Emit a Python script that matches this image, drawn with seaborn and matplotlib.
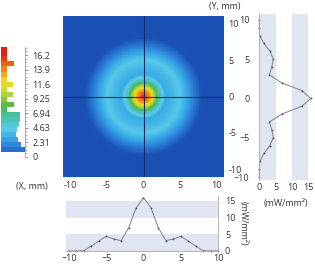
import numpy as np
import pandas as pd
import seaborn as sns
import matplotlib
matplotlib.use("Agg")
import matplotlib.pyplot as plt
from matplotlib.colors import LinearSegmentedColormap, Normalize

# profile along X (bottom) and along Y (right), mW/mm2
x_pos = [-10, -9, -8, -7, -6, -5, -4, -3, -2, -1, 0, 1, 2, 3, 4, 5, 6, 7, 8, 9, 10]
x_vals = [0, 0, 0.1, 1.5, 3.0, 4.4, 3.6, 3.1, 6.9, 12.9, 16.0, 13.0, 6.9, 3.1, 3.6, 4.4, 3.0, 1.5, 0.1, 0, 0]
y_pos = [10, 9, 8, 7, 6, 5, 4, 3, 2, 1, 0, -1, -2, -3, -4, -5, -6, -7, -8, -9, -10]
y_vals = [0, 0, 0.1, 1.4, 3.3, 4.3, 3.8, 3.1, 6.8, 13.0, 15.8, 13.0, 6.8, 3.1, 3.8, 4.3, 3.2, 1.4, 0.2, 0, 0]

# legend histogram (value bin, bar length)
hist_lo = [0.8, 1.6, 2.4, 3.2, 4.0, 4.8, 5.6, 6.4, 7.2, 8.0, 8.8, 9.6, 10.4, 11.2,
           12.0, 12.8, 13.6, 14.4, 15.2, 16.0, 16.8]
hist_len = [24, 20, 17, 15, 16, 18, 19, 19, 6, 13, 6, 12, 6, 11.7, 6, 6, 6, 12.7, 6, 6, 6]
cbar_ticks = [0, 2.31, 4.63, 6.94, 9.25, 11.6, 13.9, 16.2]
cbar_labels = ['0', '2.31', '4.63', '6.94', '9.25', '11.6', '13.9', '16.2']

vmax = 16.2
cmap = LinearSegmentedColormap.from_list("beam", [
    (0.0, "#1a4fb4"), (0.1, "#2a7ed6"), (0.2, "#3ab0e6"), (0.28, "#5ccbe8"),
    (0.4, "#48bfa8"), (0.5, "#4cb848"), (0.65, "#c8dc30"), (0.76, "#f5d420"),
    (0.87, "#f08018"), (1.0, "#e02010")])
norm = Normalize(0, vmax)

plt.rcParams['font.family'] = ['Open Sans', 'DejaVu Sans']
plt.rcParams['font.size'] = 6.5
txt = '#333333'

fig = plt.figure(figsize=(3.15, 2.66), dpi=100)
W, H = 315.0, 266.0
def box(l, t, r, b):
    return [l / W, (H - b) / H, (r - l) / W, (b - t) / H]

# ---- main map, built from radial profile
step = 0.1
grid = np.round(np.arange(-11, 11 + step / 2, step), 2)
r_prof = np.array(x_pos[10:], float)
v_prof = np.array(x_vals[10:], float)
XX, YY = np.meshgrid(grid, grid[::-1])
Z = np.interp(np.sqrt(XX ** 2 + YY ** 2), r_prof, v_prof)
df = pd.DataFrame(Z, index=grid[::-1], columns=grid)

ax = fig.add_axes(box(63, 16, 224, 177))
sns.heatmap(df, ax=ax, cmap=cmap, vmin=0, vmax=vmax, cbar=False,
            xticklabels=False, yticklabels=False, rasterized=True)
def col_idx(v):
    return (v - grid[0]) / step + 0.5
def row_idx(v):
    return (grid[-1] - v) / step + 0.5
ax.axvline(col_idx(0), color='#1c2b66', lw=0.8)
ax.axhline(row_idx(0), color='#1c2b66', lw=0.8)
ticks = [-10, -5, 0, 5, 10]
ax.set_xticks([col_idx(t) for t in ticks])
ax.set_xticklabels([str(t) for t in ticks], color=txt)
ax.set_yticks([row_idx(t) for t in ticks])
ax.set_yticklabels([str(t) for t in ticks], color=txt, rotation=0)
ax.yaxis.tick_right()
ax.tick_params(length=0, pad=3)
fig.text(48 / W, 1 - 186 / H, '(X, mm)', ha='right', va='center', color=txt)
fig.text(225 / W, 1 - 6 / H, '(Y, mm)', ha='center', va='center', color=txt)

band = '#e1e5f2'
line_kw = dict(color='#808080', lw=0.7, marker='o', markersize=1.3,
               markerfacecolor='#555555', markeredgecolor='#555555', markeredgewidth=0)

# ---- bottom profile
axb = fig.add_axes(box(66, 196, 218, 251))
axb.axhspan(0, 5, color=band, lw=0)
axb.axhspan(10, 15, color=band, lw=0)
sns.lineplot(x=x_pos, y=x_vals, ax=axb, clip_on=False, **line_kw)
axb.set_xlim(-10.4, 10)
axb.set_ylim(0, 16.5)
axb.set_xticks(ticks)
axb.set_yticks([0, 5, 10, 15])
axb.yaxis.tick_right()
axb.yaxis.set_label_position('right')
axb.set_ylabel('(mW/mm²)', rotation=270, labelpad=9, color=txt)
for s in ['top', 'left']:
    axb.spines[s].set_visible(False)
for s in ['right', 'bottom']:
    axb.spines[s].set_color('#aaaaaa')
    axb.spines[s].set_linewidth(0.6)
axb.tick_params(length=0, pad=2, colors=txt)
axb.tick_params(axis='y', pad=5)

# ---- right profile
axr = fig.add_axes(box(259.3, 14.3, 312.2, 180.2))
axr.axvspan(0, 5, color=band, lw=0)
axr.axvspan(10, 15, color=band, lw=0)
sns.lineplot(x=y_vals, y=y_pos, ax=axr, sort=False, orient='y', clip_on=False, **line_kw)
axr.set_xlim(0, 16.2)
axr.set_ylim(-10.4, 10.7)
axr.set_xticks([0, 5, 10, 15])
axr.set_yticks(ticks)
axr.set_xlabel('(mW/mm²)', labelpad=5, color=txt)
for s in ['top', 'right', 'bottom']:
    axr.spines[s].set_visible(False)
axr.spines['left'].set_color('#aaaaaa')
axr.spines['left'].set_linewidth(0.6)
axr.tick_params(length=0, pad=2, colors=txt)
axr.tick_params(axis='y', pad=7)

# ---- legend: colour scale with histogram
axc = fig.add_axes(box(1, 47, 25, 157))
centers = [lo + 0.4 for lo in hist_lo]
axc.barh(centers, hist_len, height=0.8, left=0,
         color=[cmap(norm(min(c, vmax))) for c in centers], lw=0)
axc.set_xlim(0, 24)
axc.set_ylim(0, 17.5)
axc.set_xticks([])
axc.set_yticks(cbar_ticks)
axc.set_yticklabels(cbar_labels, color=txt)
axc.set_yticks(np.arange(0, 17.5, 0.58), minor=True)
axc.yaxis.tick_right()
axc.tick_params(axis='y', which='major', length=2.5, width=0.5, color='#888888', pad=3)
axc.tick_params(axis='y', which='minor', length=1.5, width=0.4, color='#888888')
for s in ['top', 'left', 'bottom']:
    axc.spines[s].set_visible(False)
axc.spines['right'].set_color('#888888')
axc.spines['right'].set_linewidth(0.5)
axc.patch.set_alpha(0)

fig.savefig('out.png', dpi=100)
